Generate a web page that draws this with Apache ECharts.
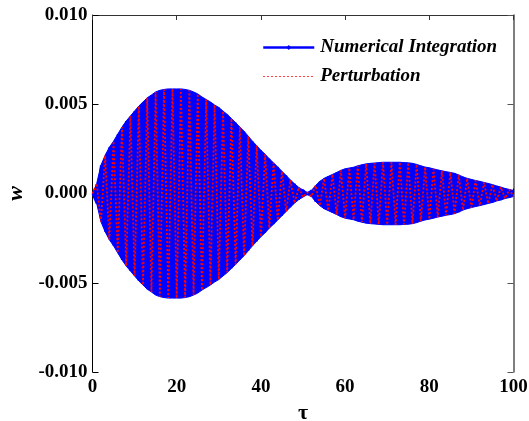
<!DOCTYPE html>
<html>
<head>
<meta charset="utf-8">
<script src="https://cdn.jsdelivr.net/npm/echarts@6/dist/echarts.min.js"></script>
<style>
html,body{margin:0;padding:0;background:#fff;}
#chart{width:529px;height:421px;}
</style>
</head>
<body>
<div id="chart"></div>
<script>
// tau sample points (0..100)
var tau = [];
for (var k = 0; k <= 100; k++) tau.push(k);

// oscillation envelope amplitude at each tau above
var amplitude = [
  0, 0.00056, 0.00158, 0.00214, 0.00259, 0.00293, 0.00333, 0.00372, 0.00406, 0.00434,
  0.00462, 0.00490, 0.00513, 0.00536, 0.00552, 0.00569, 0.00578, 0.00583, 0.00586, 0.00586,
  0.00586, 0.00586, 0.00583, 0.00578, 0.00569, 0.00558, 0.00541, 0.00527, 0.00513, 0.00496,
  0.00482, 0.00462, 0.00443, 0.00420, 0.00397, 0.00372, 0.00349, 0.00321, 0.00293, 0.00268,
  0.00242, 0.00220, 0.00194, 0.00172, 0.00149, 0.00124, 0.00101, 0.00076, 0.00054, 0.00034,
  0.00020, 0.00006, 0.00017, 0.00045, 0.00068, 0.00085, 0.00096, 0.00107, 0.00118, 0.00130,
  0.00138, 0.00143, 0.00147, 0.00155, 0.00161, 0.00166, 0.00169, 0.00171, 0.00173, 0.00175,
  0.00175, 0.00175, 0.00175, 0.00175, 0.00173, 0.00172, 0.00169, 0.00163, 0.00155, 0.00148,
  0.00144, 0.00138, 0.00132, 0.00127, 0.00122, 0.00118, 0.00113, 0.00104, 0.00093, 0.00085,
  0.00079, 0.00073, 0.00068, 0.00062, 0.00056, 0.00050, 0.00042, 0.00036, 0.00028, 0.00023,
  0.00017
];

var xTicks = [0, 20, 40, 60, 80, 100];
var yTicks = [-0.010, -0.005, 0.000, 0.005, 0.010];
var seriesNames = ['Numerical Integration', 'Perturbation'];

// Oscillation swings between +amplitude and -amplitude at successive samples
var numerical = tau.map(function (t, i) { return [t, (i % 2 === 0 ? 1 : -1) * amplitude[i]]; });
var perturbation = tau.map(function (t, i) { return [t, (i % 2 === 0 ? -1 : 1) * amplitude[i]]; });
var upperEnv = tau.map(function (t, i) { return [t, amplitude[i]]; });
var lowerEnv = tau.map(function (t, i) { return [t, -amplitude[i]]; });

var FONT = '"Liberation Serif", "Times New Roman", serif';
var chart = echarts.init(document.getElementById('chart'), null, {renderer: 'canvas'});

var axisLbl = {fontFamily: FONT, fontWeight: 'bold', fontSize: 19, color: '#000'};

chart.setOption({
  animation: false,
  backgroundColor: '#fff',
  grid: {left: 92.5, right: 15.5, top: 15, bottom: 49, containLabel: false, outerBoundsMode: 'none'},
  legend: {
    orient: 'vertical',
    left: 257, top: 33,
    itemWidth: 51, itemHeight: 6, itemGap: 10,
    data: [
      {name: seriesNames[0], lineStyle: {width: 2.5}},
      {name: seriesNames[1], itemStyle: {opacity: 0}, lineStyle: {width: 1.2, type: [1.5, 2.5]}}
    ],
    textStyle: {fontFamily: FONT, fontWeight: 'bold', fontStyle: 'italic', fontSize: 19, color: '#000', padding: [0,0,0,1]}
  },
  xAxis: [{
    type: 'value', min: xTicks[0], max: xTicks[xTicks.length - 1], interval: 20,
    name: 'τ', nameLocation: 'middle', nameGap: 28,
    nameTextStyle: {fontFamily: FONT, fontWeight: 'bold', fontSize: 22, color: '#000'},
    axisLine: {show: true, lineStyle: {color: '#000', width: 1}},
    axisTick: {show: true, inside: true, length: 5, lineStyle: {color: '#000'}},
    axisLabel: Object.assign({margin: 6}, axisLbl),
    splitLine: {show: false}
  }, {
    type: 'value', position: 'top', min: 0, max: 100, interval: 20,
    axisLine: {show: true, onZero: false, lineStyle: {color: '#333', width: 1}},
    axisTick: {show: true, inside: true, length: 5, lineStyle: {color: '#333'}},
    axisLabel: {show: false}, splitLine: {show: false}
  }],
  yAxis: [{
    type: 'value', min: yTicks[0], max: yTicks[yTicks.length - 1], interval: 0.005,
    name: 'w', nameLocation: 'middle', nameGap: 59, nameRotate: 90,
    nameTextStyle: {fontFamily: FONT, fontWeight: 'bold', fontStyle: 'italic', fontSize: 22, color: '#000'},
    axisLine: {show: true, lineStyle: {color: '#000', width: 1}},
    axisTick: {show: true, inside: true, length: 6, lineStyle: {color: '#000'}},
    axisLabel: Object.assign({margin: 5, formatter: function (v) { return v.toFixed(3); }}, axisLbl),
    splitLine: {show: false}
  }, {
    type: 'value', position: 'right', min: -0.01, max: 0.01, interval: 0.005,
    axisLine: {show: true, onZero: false, lineStyle: {color: '#555', width: 1.5}},
    axisTick: {show: true, inside: true, length: 6, lineStyle: {color: '#555'}},
    axisLabel: {show: false}, splitLine: {show: false}
  }],
  series: [
    {
      name: 'envUp', type: 'line', data: upperEnv, symbol: 'none', silent: true,
      lineStyle: {color: '#0000ff', width: 1}, areaStyle: {color: '#0000ff', opacity: 1}, z: 1
    },
    {
      name: 'envDown', type: 'line', data: lowerEnv, symbol: 'none', silent: true,
      lineStyle: {color: '#0000ff', width: 1}, areaStyle: {color: '#0000ff', opacity: 1}, z: 1
    },
    {
      name: seriesNames[0], type: 'line', data: numerical,
      symbol: 'diamond', symbolSize: 6, showSymbol: false,
      itemStyle: {color: '#0000ff'},
      lineStyle: {color: '#0000ff', width: 2}, z: 2
    },
    {
      name: seriesNames[1], type: 'line', data: perturbation,
      symbol: 'none',
      itemStyle: {color: '#ff0000'},
      lineStyle: {color: '#ff0000', width: 1.8, type: [2, 2]}, z: 3
    }
  ]
});
</script>
</body>
</html>
